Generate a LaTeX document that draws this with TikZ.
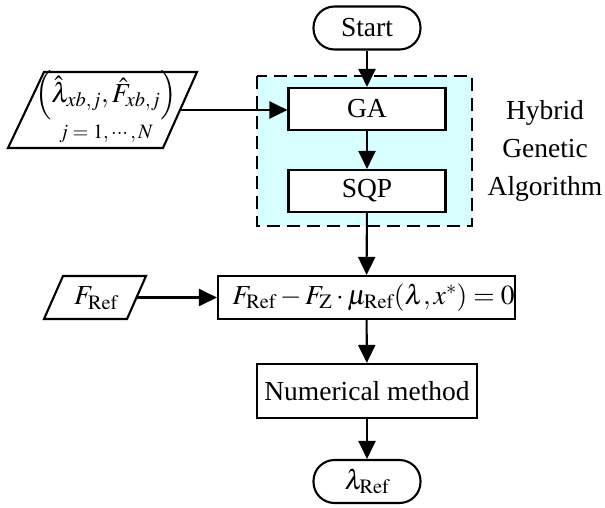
\documentclass[tikz,border=0pt]{standalone}
\usepackage{amsmath}
\usepackage{mathptmx}
\usepackage{fontspec}
\setmainfont{Liberation Serif}
\usetikzlibrary{arrows.meta}
\definecolor{hgafill}{RGB}{215,255,255}
\tikzset{
  txt/.style={font=\fontsize{27.5}{38}\selectfont},
  procbox/.style={draw, line width=2.1pt, rectangle, inner sep=0pt, txt},
  termbox/.style={draw, line width=2.1pt, rectangle, rounded corners=21pt, inner sep=0pt, txt},
  ioshape/.style={draw, line width=2.1pt, line join=miter},
  flow/.style={line width=2.1pt, -{Triangle[length=18pt,width=17pt]}},
  groupbox/.style={draw, line width=2.1pt, dash pattern=on 13pt off 7pt, fill=hgafill},
}
\begin{document}
\begin{tikzpicture}[x=1pt,y=-1pt]
\useasboundingbox (0,0) rectangle (605,507);
\fill[white] (0,0) rectangle (605,507);

% hybrid genetic algorithm group
\draw[groupbox] (257,76) rectangle (472,226);
\node[txt, align=center] (hga) at (545,151) {Hybrid\\Genetic\\Algorithm};

% main flow
\node[termbox, minimum width=107pt, minimum height=43pt] (start) at (367,28) {Start};
\node[procbox, minimum width=157pt, minimum height=42pt, fill=white] (ga) at (367,109) {GA};
\node[procbox, minimum width=157pt, minimum height=42pt, fill=white] (sqp) at (367,191) {SQP};
\node[procbox, minimum width=297pt, minimum height=43pt] (eq) at (366.5,297.5)
  {\hspace*{14pt}$F_{\mathrm{Ref}} - F_{\mathrm{Z}}\cdot\mu_{\mathrm{Ref}}(\lambda,x^{*}) = 0$};
\node[procbox, minimum width=220pt, minimum height=54pt] (num) at (367,391) {Numerical method};
\node[termbox, minimum width=107pt, minimum height=43pt] (out) at (367,481.5) {$\lambda_{\mathrm{Ref}}$};

% input data
\draw[ioshape] (8,148) -- (163,148) -- (197,72) -- (44,72) -- cycle;
\coordinate (inR) at (180,110);
\node[txt] (inp) at (106,108)
  {$\underset{j\;=\;1,\,\cdots,\,N}{\left(\hat{\lambda}_{xb,j},\hat{F}_{xb,j}\right)}$};

\draw[ioshape] (44,319) -- (127,319) -- (146,276) -- (63,276) -- cycle;
\coordinate (fR) at (136.5,297.5);
\node[txt] (fref) at (96,298) {$F_{\mathrm{Ref}}$};

% connectors
\draw[flow] (start) -- (ga);
\draw[flow] (ga) -- (sqp);
\draw[flow] (sqp) -- (eq);
\draw[flow] (eq) -- (num);
\draw[flow] (num) -- (out);
\draw[flow] (inR) -- (inR -| ga.west);
\draw[flow] (fR) -- (fR -| eq.west);
\end{tikzpicture}
\end{document}
